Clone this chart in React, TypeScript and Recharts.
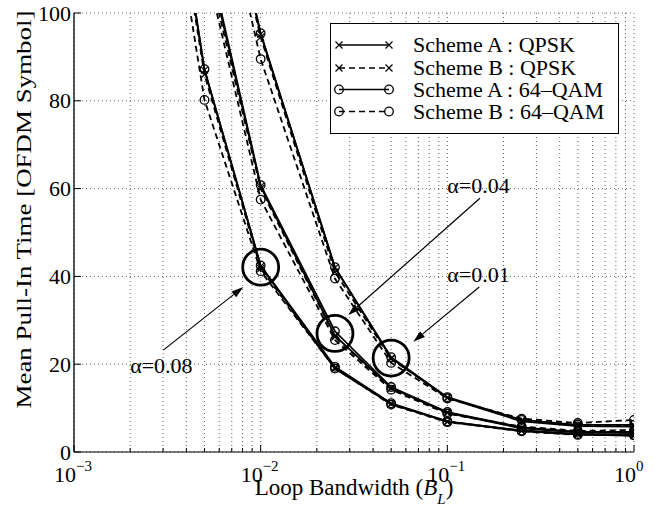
import React from 'react';
import { LineChart, Line, XAxis, YAxis, CartesianGrid, ReferenceDot, ReferenceLine, Legend } from 'recharts';

const FONT = "'Liberation Serif', 'Times New Roman', Times, serif";

// Loop bandwidth B_L (x values)
const bandwidth = [0.0025, 0.005, 0.01, 0.025, 0.05, 0.1, 0.25, 0.5, 1];

// alpha = 0.08
const a08SchemeA_QPSK = [168, 87, 42.3, 19.2, 11.0, 6.9, 4.8, 4.0, 3.7];
const a08SchemeB_QPSK = [166, 86, 41.8, 19.0, 10.9, 6.9, 4.8, 4.0, 3.8];
const a08SchemeA_QAM = [170, 87.2, 42.5, 19.4, 11.1, 7.0, 4.9, 4.1, 3.9];
const a08SchemeB_QAM = [160, 80.2, 41.2, 19.0, 10.8, 6.8, 4.7, 3.9, 3.8];
// alpha = 0.04
const a04SchemeA_QPSK = [220, 116, 60.5, 26.5, 14.6, 8.9, 5.4, 4.5, 4.3];
const a04SchemeB_QPSK = [220, 114, 60.0, 26.2, 14.5, 9.0, 5.5, 4.6, 4.5];
const a04SchemeA_QAM = [220, 117, 60.8, 27.5, 14.8, 9.1, 5.6, 4.6, 4.6];
const a04SchemeB_QAM = [215, 112, 57.5, 25.5, 14.2, 8.7, 5.8, 4.8, 5.0];
// alpha = 0.01
const a01SchemeA_QPSK = [300, 150, 95.2, 42.0, 21.4, 12.3, 7.0, 5.9, 5.8];
const a01SchemeB_QPSK = [300, 148, 94.5, 41.0, 21.2, 12.4, 7.2, 6.1, 6.1];
const a01SchemeA_QAM = [300, 152, 95.4, 42.1, 21.6, 12.5, 7.3, 6.2, 6.2];
const a01SchemeB_QAM = [290, 145, 89.5, 39.5, 20.3, 12.2, 7.6, 6.6, 7.3];

const groups = [
  [a08SchemeA_QPSK, a08SchemeB_QPSK, a08SchemeA_QAM, a08SchemeB_QAM],
  [a04SchemeA_QPSK, a04SchemeB_QPSK, a04SchemeA_QAM, a04SchemeB_QAM],
  [a01SchemeA_QPSK, a01SchemeB_QPSK, a01SchemeA_QAM, a01SchemeB_QAM],
];

const seriesNames = ['Scheme A : QPSK', 'Scheme B : QPSK', 'Scheme A : 64\u2013QAM', 'Scheme B : 64\u2013QAM'];
const seriesDashed = [false, true, false, true];
const seriesMarker = ['x', 'x', 'o', 'o'];

// axis ticks
const xTicks = [
  0.001, 0.002, 0.003, 0.004, 0.005, 0.006, 0.007, 0.008, 0.009,
  0.01, 0.02, 0.03, 0.04, 0.05, 0.06, 0.07, 0.08, 0.09,
  0.1, 0.2, 0.3, 0.4, 0.5, 0.6, 0.7, 0.8, 0.9, 1,
];
const xDecades = [0.001, 0.01, 0.1, 1];
const xDecadeExp = ['\u22123', '\u22122', '\u22121', '0'];
const yTicks = [0, 20, 40, 60, 80, 100];

// annotations (data coordinates)
const alphaLabels = ['\u03b1=0.08', '\u03b1=0.04', '\u03b1=0.01'];
const alphaLabelX = [0.002, 0.1, 0.1];
const alphaLabelY = [18.0, 59.0, 38.7];
const alphaArrowFromX = [0.00301, 0.1495, 0.1482];
const alphaArrowFromY = [23.2, 57.8, 37.6];
const alphaArrowToX = [0.00807, 0.02945, 0.0657];
const alphaArrowToY = [37.6, 31.2, 25.1];
const alphaCircleX = [0.01, 0.025, 0.05];
const alphaCircleY = [42.1, 27.0, 21.4];

const chartData = bandwidth.map((bw, i) => {
  const row: any = { bw };
  groups.forEach((g, gi) => g.forEach((arr, si) => { row[`g${gi}s${si}`] = arr[i]; }));
  return row;
});

const decadeIndex = (v: number) => xDecades.findIndex((d) => Math.abs(d - v) < d * 1e-6);

const XDot = (p: any) => {
  const { cx, cy } = p;
  if (cx == null || cy == null || isNaN(cx) || isNaN(cy)) return null;
  const s = 3.5;
  return (
    <path d={`M${cx - s},${cy - s}L${cx + s},${cy + s}M${cx - s},${cy + s}L${cx + s},${cy - s}`}
      stroke="#000" strokeWidth={1.2} fill="none" />
  );
};
const ODot = (p: any) => {
  const { cx, cy } = p;
  if (cx == null || cy == null || isNaN(cx) || isNaN(cy)) return null;
  return <circle cx={cx} cy={cy} r={4.3} fill="none" stroke="#000" strokeWidth={1.3} />;
};

const BottomTick = (p: any) => {
  const { x, y, payload } = p;
  const di = decadeIndex(payload.value);
  const major = di >= 0;
  return (
    <g>
      <line x1={x} x2={x} y1={y} y2={y - (major ? 7 : 4)} stroke="#000" strokeWidth={1} />
      {major && (
        <g fontFamily={FONT} fill="#000">
          <text x={x + 2} y={y + 30} textAnchor="end" fontSize={22}>10</text>
          <text x={x + 2} y={y + 19} textAnchor="start" fontSize={15}>{xDecadeExp[di]}</text>
        </g>
      )}
    </g>
  );
};
const TopTick = (p: any) => {
  const { x, y, payload } = p;
  const major = decadeIndex(payload.value) >= 0;
  return <line x1={x} x2={x} y1={y} y2={y + (major ? 7 : 4)} stroke="#000" strokeWidth={1} />;
};
const LeftTick = (p: any) => {
  const { x, y, payload } = p;
  return (
    <g>
      <line x1={x} x2={x + 7} y1={y} y2={y} stroke="#000" strokeWidth={1} />
      <text x={x - 3} y={y + 7.5} textAnchor="end" fontSize={22} fontFamily={FONT} fill="#000">{payload.value}</text>
    </g>
  );
};
const RightTick = (p: any) => {
  const { x, y } = p;
  return <line x1={x} x2={x - 7} y1={y} y2={y} stroke="#000" strokeWidth={1} />;
};

const XLabel = (p: any) => {
  const vb = p.viewBox || {};
  const cx = vb.x != null ? vb.x + vb.width / 2 : 354;
  const by = vb.y != null ? vb.y + 43 : 495;
  return (
    <text x={cx} y={by} textAnchor="middle" fontSize={23} fontFamily={FONT} fill="#000">
      <tspan>Loop Bandwidth (</tspan>
      <tspan fontStyle="italic">B</tspan>
      <tspan fontStyle="italic" fontSize={15} dy={9}>L</tspan>
      <tspan dy={-9}>)</tspan>
    </text>
  );
};
const YLabel = (p: any) => {
  const vb = p.viewBox || {};
  const x = vb.x != null ? vb.x + 17 : 31;
  const cy = vb.y != null ? vb.y + vb.height / 2 - 23 : 209;
  return (
    <text transform={`translate(${x},${cy}) rotate(-90)`} textAnchor="middle" fontSize={22}
      fontFamily={FONT} fill="#000" textLength={398} lengthAdjust="spacingAndGlyphs">
      Mean Pull-In Time [OFDM Symbol]
    </text>
  );
};

const ArrowShape = (p: any) => {
  const { x1, y1, x2, y2 } = p;
  if ([x1, y1, x2, y2].some((v) => v == null || isNaN(v))) return null;
  const ang = Math.atan2(y2 - y1, x2 - x1);
  const L = 12, W = 3.8;
  const c = Math.cos(ang), s = Math.sin(ang);
  const bx = x2 - L * c, by = y2 - L * s;
  return (
    <g>
      <line x1={x1} y1={y1} x2={bx} y2={by} stroke="#000" strokeWidth={1.2} />
      <polygon points={`${x2},${y2} ${bx + W * s},${by - W * c} ${bx - W * s},${by + W * c}`} fill="#000" />
    </g>
  );
};

const makeLabelShape = (text: string) => (p: any) => (
  <text x={p.cx} y={p.cy} textAnchor="start" fontSize={22} fontFamily={FONT} fill="#000">{text}</text>
);

const LegendBox = () => {
  const rowY = [22, 45, 66.5, 88.5];
  return (
    <svg width={290} height={112} style={{ display: 'block', overflow: 'visible' }}>
      <rect x={0.5} y={0.5} width={288} height={110} fill="#fff" stroke="#000" strokeWidth={1} />
      {seriesNames.map((name, i) => {
        const cy = rowY[i];
        const Mk = seriesMarker[i] === 'x' ? XDot : ODot;
        return (
          <g key={name}>
            <line x1={9} x2={59} y1={cy} y2={cy} stroke="#000" strokeWidth={1.3}
              strokeDasharray={seriesDashed[i] ? '6 4' : undefined} />
            <Mk cx={9} cy={cy} />
            <Mk cx={59} cy={cy} />
            <text x={83} y={cy + 7} fontSize={22} fontFamily={FONT} fill="#000">{name}</text>
          </g>
        );
      })}
    </svg>
  );
};

export default function App() {
  return (
    <div style={{ position: 'absolute', left: 0, top: 0, width: 662, height: 509, background: '#fff' }}>
      <LineChart width={662} height={509} data={chartData} margin={{ top: 13, right: 28, bottom: 27, left: 14 }}>
        <CartesianGrid stroke="#666" strokeDasharray="1 3" strokeWidth={1} />
        <XAxis dataKey="bw" type="number" scale="log" domain={[0.001, 1]} ticks={xTicks} interval={0}
          allowDataOverflow height={30} tickSize={0} tickMargin={0} tickLine={false}
          axisLine={{ stroke: '#000', strokeWidth: 1 }} tick={<BottomTick />} label={<XLabel />} />
        <XAxis xAxisId="top" orientation="top" mirror type="number" scale="log" domain={[0.001, 1]}
          ticks={xTicks} interval={0} allowDataOverflow height={0} tickSize={0} tickMargin={0} tickLine={false}
          axisLine={{ stroke: '#000', strokeWidth: 1 }} tick={<TopTick />} />
        <YAxis type="number" domain={[0, 100]} ticks={yTicks} interval={0} allowDataOverflow width={60}
          tickSize={0} tickMargin={0} tickLine={false} axisLine={{ stroke: '#000', strokeWidth: 1.3 }}
          tick={<LeftTick />} label={<YLabel />} />
        <YAxis yAxisId="right" orientation="right" mirror type="number" domain={[0, 100]} ticks={yTicks}
          interval={0} allowDataOverflow width={0} tickSize={0} tickMargin={0} tickLine={false}
          axisLine={{ stroke: '#000', strokeWidth: 1 }} tick={<RightTick />} />
        {groups.map((g, gi) =>
          g.map((_, si) => (
            <Line key={`g${gi}s${si}`} dataKey={`g${gi}s${si}`} type="linear" stroke="#000"
              strokeWidth={1.8} strokeDasharray={seriesDashed[si] ? '6 4' : undefined}
              dot={seriesMarker[si] === 'x' ? <XDot /> : <ODot />} activeDot={false}
              isAnimationActive={false} legendType="none" />
          ))
        )}
        {alphaCircleX.map((cx, i) => (
          <ReferenceDot key={`c${i}`} x={cx} y={alphaCircleY[i]} r={18} fill="none" stroke="#000" strokeWidth={2.8} />
        ))}
        {alphaArrowFromX.map((fx, i) => (
          <ReferenceLine key={`a${i}`} segment={[{ x: fx, y: alphaArrowFromY[i] }, { x: alphaArrowToX[i], y: alphaArrowToY[i] }]}
            shape={ArrowShape} />
        ))}
        {alphaLabels.map((t, i) => (
          <ReferenceDot key={`t${i}`} x={alphaLabelX[i]} y={alphaLabelY[i]} r={0} shape={makeLabelShape(t)} />
        ))}
        <Legend layout="vertical" align="center" verticalAlign="middle" content={<LegendBox />}
          wrapperStyle={{ position: 'absolute', left: 330, top: 23, width: 290, height: 112 }} />
      </LineChart>
    </div>
  );
}
